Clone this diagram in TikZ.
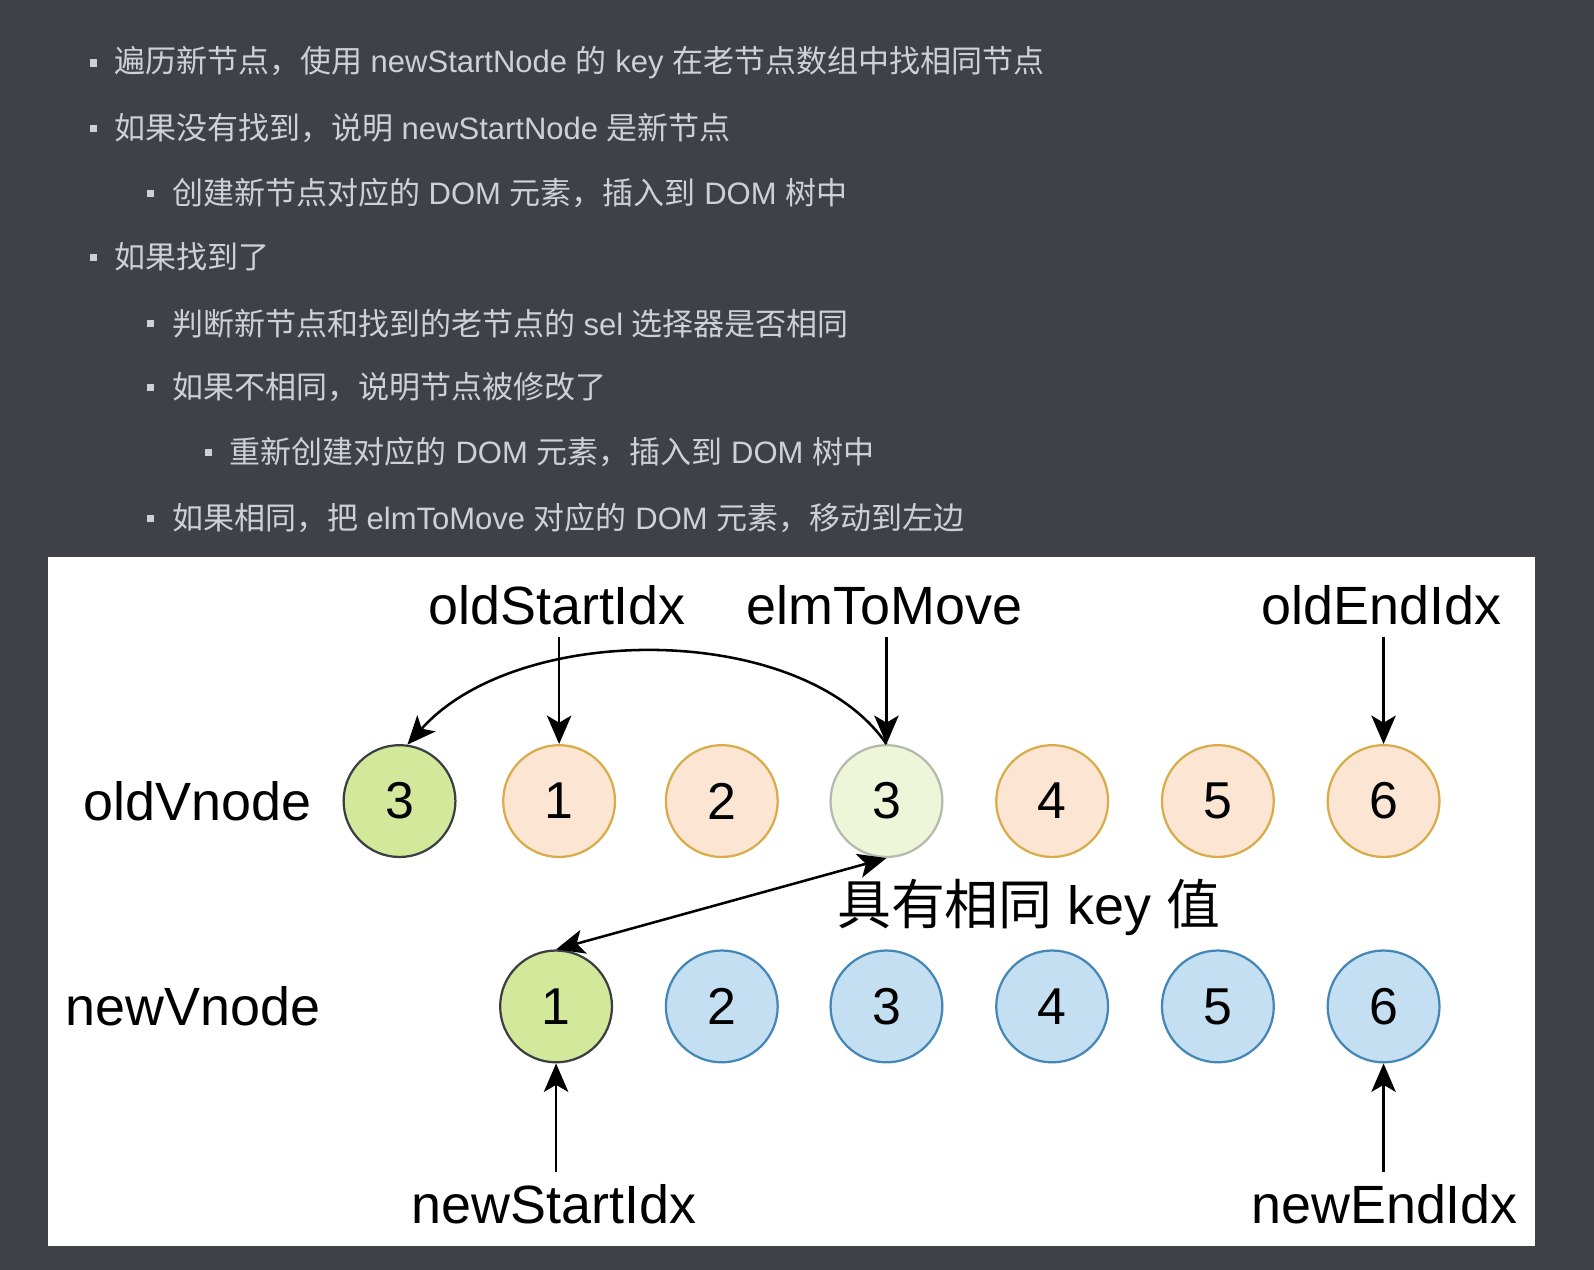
\documentclass[tikz,border=0pt]{standalone}
\usepackage{fontspec}
\setmainfont{Liberation Sans}
\newfontfamily\cjk{Noto Sans CJK SC}
\usetikzlibrary{arrows.meta}
\definecolor{bgdark}{HTML}{3E4247}
\definecolor{txtgray}{HTML}{CDD0D4}
\definecolor{orfill}{HTML}{FCE6D3}
\definecolor{ordraw}{HTML}{D8AC48}
\definecolor{grfill}{HTML}{D3E89A}
\definecolor{grdraw}{HTML}{3C3F42}
\definecolor{lgfill}{HTML}{EEF5D9}
\definecolor{lgdraw}{HTML}{B4BAAE}
\definecolor{blfill}{HTML}{C3DFF1}
\definecolor{bldraw}{HTML}{4486B6}
\tikzset{
  bullettxt/.style={anchor=west, text=txtgray, font=\fontsize{30.5}{30.5}\selectfont, inner sep=0pt},
  bulletsq/.style={fill=txtgray},
  vcirc/.style={circle, minimum size=110pt, inner sep=0pt, line width=2.2pt, font=\fontsize{51}{51}\selectfont},
  oldc/.style={vcirc, draw=ordraw, fill=orfill},
  grc/.style={vcirc, draw=grdraw, fill=grfill},
  lgc/.style={vcirc, draw=lgdraw, fill=lgfill},
  newc/.style={vcirc, draw=bldraw, fill=blfill},
  lbl/.style={font=\fontsize{53}{53}\selectfont, inner sep=12pt},
  tip/.tip={Stealth[length=28pt,width=24pt,inset=7pt]},
  arr/.style={line width=2.5pt, -tip},
  darr/.style={line width=2.5pt, tip-tip}
}
\begin{document}
\begin{tikzpicture}[x=1pt,y=-1pt]
\useasboundingbox (0,0) rectangle (1568,1249);
\fill[bgdark] (0,0) rectangle (1568,1249);
\fill[white] (47.5,548) rectangle (1510,1226);

% bullets
\fill[bulletsq] (88.5,58.5) rectangle +(7,7);
\node[bullettxt] (t1) at (112,62) {{\cjk 遍历新节点，使用} newStartNode {\cjk 的} key {\cjk 在老节点数组中找相同节点}};
\fill[bulletsq] (88.5,122.5) rectangle +(7,7);
\node[bullettxt] (t2) at (112,126) {{\cjk 如果没有找到，说明} newStartNode {\cjk 是新节点}};
\fill[bulletsq] (144.5,186.5) rectangle +(7,7);
\node[bullettxt] (t3) at (169,190) {{\cjk 创建新节点对应的} DOM {\cjk 元素，插入到} DOM {\cjk 树中}};
\fill[bulletsq] (88.5,249.5) rectangle +(7,7);
\node[bullettxt] (t4) at (112,253) {{\cjk 如果找到了}};
\fill[bulletsq] (144.5,314.5) rectangle +(7,7);
\node[bullettxt] (t5) at (169,318) {{\cjk 判断新节点和找到的老节点的} sel {\cjk 选择器是否相同}};
\fill[bulletsq] (144.5,377.5) rectangle +(7,7);
\node[bullettxt] (t6) at (169,381) {{\cjk 如果不相同，说明节点被修改了}};
\fill[bulletsq] (201.5,441.5) rectangle +(7,7);
\node[bullettxt] (t7) at (226,445) {{\cjk 重新创建对应的} DOM {\cjk 元素，插入到} DOM {\cjk 树中}};
\fill[bulletsq] (144.5,506.5) rectangle +(7,7);
\node[bullettxt] (t8) at (169,510) {{\cjk 如果相同，把} elmToMove {\cjk 对应的} DOM {\cjk 元素，移动到左边}};

% row labels
\node[lbl, inner sep=0pt] (lold) at (194,788) {oldVnode};
\node[lbl, inner sep=0pt] (lnew) at (190,990) {newVnode};

% old row
\node[grc] (o1) at (393,788) {3};
\node[oldc] (o2) at (550,788) {1};
\node[oldc] (o3) at (710,788) {2};
\node[lgc] (o4) at (872,788) {3};
\node[oldc] (o5) at (1035,788) {4};
\node[oldc] (o6) at (1198,788) {5};
\node[oldc] (o7) at (1361,788) {6};

% new row
\node[grc] (n1) at (547,990) {1};
\node[newc] (n2) at (710,990) {2};
\node[newc] (n3) at (872,990) {3};
\node[newc] (n4) at (1035,990) {4};
\node[newc] (n5) at (1198,990) {5};
\node[newc] (n6) at (1361,990) {6};

% index labels
\node[lbl] (lOS) at (548,595) {oldStartIdx};
\node[lbl] (lEM) at (870,595) {elmToMove};
\node[lbl] (lOE) at (1359,595) {oldEndIdx};
\node[lbl] (lNS) at (545,1185) {newStartIdx};
\node[lbl] (lNE) at (1362,1185) {newEndIdx};
\node[lbl, inner sep=0pt] (lkey) at (1012,893) {{\cjk 具有相同} key {\cjk 值}};

% arrows
\draw[arr] (o2.north |- lOS.south) -- (o2.north);
\draw[arr] (o4.north |- lEM.south) -- (o4.north);
\draw[arr] (o7.north |- lOE.south) -- (o7.north);
\draw[arr] (n1.south |- lNS.north) -- (n1.south);
\draw[arr] (n6.south |- lNE.north) -- (n6.south);
\draw[arr] (o4.north) .. controls (790,612) and (510,610) .. (o1.82);
\draw[darr] (o4.south) -- (n1.north);
\end{tikzpicture}
\end{document}
